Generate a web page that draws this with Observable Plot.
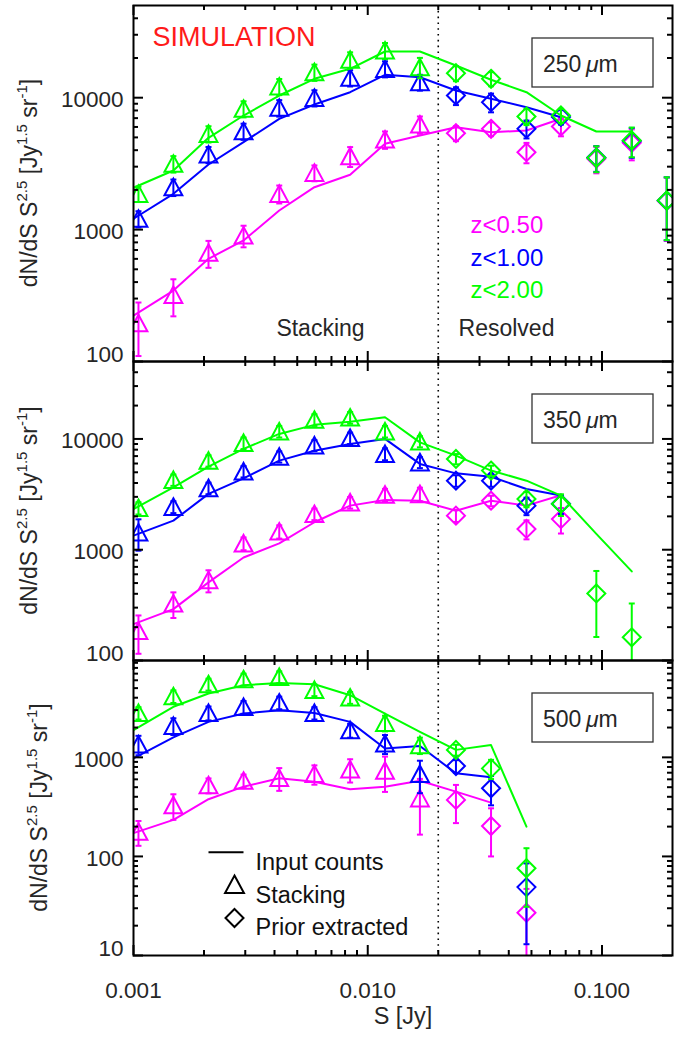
<!DOCTYPE html>
<html><head><meta charset="utf-8">
<script src="https://cdn.jsdelivr.net/npm/d3@7"></script>
<script src="https://cdn.jsdelivr.net/npm/@observablehq/plot@0.6"></script>
<style>
html,body{margin:0;padding:0;background:#fff;}
#chart{position:relative;width:674px;height:1041px;overflow:hidden;background:#fff;}
#chart svg{position:absolute;left:0;}
</style></head><body><div id="chart"></div>
<script>
// ---------- data ----------
const triX  = [0.00105, 0.00148, 0.00209, 0.00295, 0.00419, 0.00592, 0.00841, 0.01185, 0.0167];
const diaX  = [0.0238, 0.0336, 0.0476, 0.0668, 0.0946, 0.134, 0.189];
const lineX = [0.001, 0.00148, 0.00209, 0.00295, 0.00419, 0.00592, 0.00841, 0.01185, 0.0167,
               0.0238, 0.0336, 0.0476, 0.0668, 0.0946, 0.134];
const zLabels = ["z<0.50", "z<1.00", "z<2.00"];
const bandLabels = ["250", "350", "500"];
const regionLabels = ["Stacking", "Resolved"];
const legendLabels = ["Input counts", "Stacking", "Prior extracted"];

// 250 um : l = input counts line, s = stacking (triangles), p = prior extracted (diamonds), e = error
const l250_z05 = [223, 345, 601, 827, 1395, 2096, 2603, 4473, 5168, 5974, 5475, 5640, 6918];
const l250_z10 = [1208, 1868, 3116, 4599, 6918, 8880, 11010, 14920, 14300, 11340, 9810, 8472, 7116];
const l250_z20 = [2075, 2806, 4966, 7328, 10390, 13910, 16560, 22400, 22400, 17540, 13670, 11010, 7328, 5542, 5542];
const s250_z05 = [195, 320, 667, 902, 1868, 2695, 3601, 4821, 6264];
const s250_z05e = [85, 100, 154, 168, 290, 370, 620, 725, 940];
const s250_z10 = [1208, 2096, 3710, 5572, 8384, 9980, 14160, 16560, 13110];
const s250_z10e = [170, 300, 520, 780, 1200, 1400, 2000, 2300, 1800];
const s250_z20 = [1868, 3155, 5324, 8239, 12160, 15610, 19380, 22790, 17030];
const s250_z20e = [250, 450, 750, 1150, 1700, 2200, 2700, 3200, 3000];
const p250_z05 = [5381, 5809, 3863, 6047, 3450, 4550, 1650];
const p250_z05e = [700, 700, 680, 950, 780, 1200, 830];
const p250_z10 = [10390, 9245, 5809, 7150, 3520, 4700, 1660];
const p250_z10e = [1600, 1500, 900, 900, 780, 1200, 830];
const p250_z20 = [15340, 13910, 7204, 7328, 3502, 4738, 1662];
const p250_z20e = [2000, 1700, 1000, 900, 780, 1200, 830];

// 350 um
const l350_z05 = [213, 291, 507, 851, 1140, 1770, 2500, 2810, 2770, 2250, 2770, 2500, 3100];
const l350_z10 = [1340, 1830, 3190, 4400, 6370, 7830, 9010, 10000, 5950, 4890, 4560, 3530, 3080];
const l350_z20 = [2330, 3650, 5620, 8130, 11100, 13400, 14300, 15700, 9300, 7060, 5180, 4200, 3080, 1390, 637];
const s350_z05 = [185, 327, 532, 1140, 1460, 2100, 2670, 3140, 3180];
const s350_z05e = [70, 85, 120, 150, 200, 250, 320, 400, 450];
const s350_z10 = [1430, 2440, 3600, 5090, 6920, 8750, 10200, 7320, 6150];
const s350_z10e = [450, 300, 430, 600, 800, 1000, 1200, 900, 700];
const s350_z20 = [2380, 4270, 6370, 9200, 11700, 14900, 15600, 11700, 9500];
const s350_z20e = [300, 500, 750, 1100, 1400, 1800, 1900, 1400, 1100];
const p350_z05 = [2030, 2770, 1540, 1890];
const p350_z05e = [250, 300, 300, 490];
const p350_z10 = [4200, 4200, 2500, 2600];
const p350_z10e = [500, 500, 450, 500];
const p350_z20 = [6600, 5180, 2870, 2590, 403, 162];
const p350_z20e = [700, 550, 450, 575, 240, 165];

// 500 um
const l500_z05 = [172, 234, 378, 506, 615, 568, 476, 506, 581, 451, 349];
const l500_z10 = [977, 1590, 2280, 2770, 2990, 2810, 2280, 1230, 1300, 690, 630];
const l500_z20 = [1880, 3240, 4410, 5350, 5640, 5470, 4240, 2770, 1810, 1190, 1330, 200];
const s500_z05 = [178, 329, 523, 580, 619, 680, 757, 733, 386];
const s500_z05e = [50, 95, 90, 90, 160, 150, 200, 285, 220];
const s500_z10 = [1350, 2080, 2810, 3230, 3580, 2810, 1880, 1380, 680];
const s500_z10e = [300, 400, 450, 480, 520, 400, 300, 300, 245];
const s500_z20 = [2810, 4140, 5470, 6140, 6480, 4800, 4020, 2230, 1330];
const s500_z20e = [400, 600, 750, 850, 900, 650, 550, 400, 250];
const p500_z05 = [372, 203, 27];
const p500_z05e = [155, 103, 20];
const p500_z10 = [817, 488, 49];
const p500_z10e = [120, 160, 36];
const p500_z20 = [1190, 774, 76];
const p500_z20e = [150, 170, 45];

const xMajor = [0.001, 0.01, 0.1];
const xMinor = [0.002,0.003,0.004,0.005,0.006,0.007,0.008,0.009,0.02,0.03,0.04,0.05,0.06,0.07,0.08,0.09];
const stackLimit = 0.02;

// ---------- styling ----------
const COLORS = ["#ff00ff", "#0000ff", "#00ff00"];
const FONT = "'Liberation Sans', Arial, Helvetica, sans-serif";
const TXT = "#262626";
const W = 674, ML = 133, MR = 2;
const FW = W - ML - MR;

const radius = size => Math.sqrt(size / Math.PI);
const triSym = {draw(c, size){ const r = radius(size); c.moveTo(0,-r); c.lineTo(r*1.05, r*0.95); c.lineTo(-r*1.05, r*0.95); c.closePath(); }};
const diaSym = {draw(c, size){ const r = radius(size); c.moveTo(0,-r); c.lineTo(r,0); c.lineTo(0,r); c.lineTo(-r,0); c.closePath(); }};
const capSym = {draw(c, size){ const r = radius(size); c.moveTo(-r,0); c.lineTo(r,0); }};

function minorTicks(lo, hi){
  const out = [];
  for (let d = Math.floor(Math.log10(lo)); d <= Math.ceil(Math.log10(hi)); d++)
    for (let m = 2; m <= 9; m++){ const v = m*Math.pow(10,d); if (v > lo && v < hi) out.push(v); }
  return out;
}

function seriesMarks(lv, sv, se, pv, pe, color){
  const L = lv.map((v,i)=>({x: lineX[i], y: v}));
  const S = sv.map((v,i)=>({x: triX[i], y: v, lo: Math.max(v - se[i], 1), hi: v + se[i]}));
  const P = pv.map((v,i)=>({x: diaX[i], y: v, lo: Math.max(v - pe[i], 1), hi: v + pe[i]}));
  const o = {stroke: color, strokeWidth: 2, clip: true};
  const marks = [Plot.line(L, {x:"x", y:"y", ...o})];
  for (const D of [S, P]) {
    marks.push(Plot.ruleX(D, {x:"x", y1:"lo", y2:"hi", ...o}));
    marks.push(Plot.dot(D, {x:"x", y:"hi", symbol: capSym, r: 3, fill: "none", ...o}));
    marks.push(Plot.dot(D, {x:"x", y:"lo", symbol: capSym, r: 3, fill: "none", ...o}));
  }
  marks.push(Plot.dot(S, {x:"x", y:"y", symbol: triSym, r: 8.5, fill: "none", ...o}));
  marks.push(Plot.dot(P, {x:"x", y:"y", symbol: diaSym, r: 9, fill: "none", ...o}));
  return marks;
}

function axisMarks(yDomain, yMajor, FH, showXLabels){
  const yMinor = minorTicks(yDomain[0], yDomain[1]);
  const tk = {stroke: "black", strokeWidth: 2};
  const lab = {tickSize: 0, tickPadding: 10, fill: TXT, fontSize: 22.5, label: null, tickFormat: d => String(d)};
  const edge = yMajor.filter(v => Math.abs(v - yDomain[0]) / yDomain[0] < 0.02);
  const inner = yMajor.filter(v => !edge.includes(v));
  const m = [];
  // inward ticks: frame-spanning rules inset down to the tick length
  for (const [vals, len] of [[yMajor, 10], [yMinor, 5]]) {
    m.push(Plot.ruleY(vals, {y: d => d, insetRight: FW - len, ...tk}));
    m.push(Plot.ruleY(vals, {y: d => d, insetLeft: FW - len, ...tk}));
  }
  for (const [vals, len] of [[xMajor, 10], [xMinor, 5]]) {
    m.push(Plot.ruleX(vals, {x: d => d, insetTop: FH - len, ...tk}));
    m.push(Plot.ruleX(vals, {x: d => d, insetBottom: FH - len, ...tk}));
  }
  m.push(Plot.axisY(inner, {anchor: "left", dy: 2, ...lab}));
  m.push(Plot.axisY(edge, {anchor: "left", dy: -7, ...lab}));
  if (showXLabels) m.push(Plot.axisX(xMajor, {anchor: "bottom", tickSize: 0, tickPadding: 27, fill: TXT, fontSize: 22.5, label: null, tickFormat: d => d.toFixed(3)}));
  return m;
}

const panels = [
  {band: bandLabels[0], dom: [100, 50000], maj: [100, 1000, 10000], top: 0, height: 362, mt: 5, mb: 1,
   l: [l250_z05, l250_z10, l250_z20], s: [s250_z05, s250_z10, s250_z20], se: [s250_z05e, s250_z10e, s250_z20e],
   p: [p250_z05, p250_z10, p250_z20], pe: [p250_z05e, p250_z10e, p250_z20e], titleX: 37},
  {band: bandLabels[1], dom: [100, 50000], maj: [100, 1000, 10000], top: 360, height: 301, mt: 1, mb: 1,
   l: [l350_z05, l350_z10, l350_z20], s: [s350_z05, s350_z10, s350_z20], se: [s350_z05e, s350_z10e, s350_z20e],
   p: [p350_z05, p350_z10, p350_z20], pe: [p350_z05e, p350_z10e, p350_z20e], titleX: 37},
  {band: bandLabels[2], dom: [10, 9500], maj: [10, 100, 1000], top: 659, height: 382, mt: 1, mb: 86,
   l: [l500_z05, l500_z10, l500_z20], s: [s500_z05, s500_z10, s500_z20], se: [s500_z05e, s500_z10e, s500_z20e],
   p: [p500_z05, p500_z10, p500_z20], pe: [p500_z05e, p500_z10e, p500_z20e], titleX: 47}
];

const chart = document.getElementById("chart");

panels.forEach((pn, k) => {
  const FH = pn.height - pn.mt - pn.mb;
  const marks = [];
  marks.push(Plot.ruleX([stackLimit], {stroke: "black", strokeWidth: 1.6, strokeDasharray: "1.6,4.2"}));
  for (let j = 0; j < 3; j++) marks.push(...seriesMarks(pn.l[j], pn.s[j], pn.se[j], pn.p[j], pn.pe[j], COLORS[j]));
  marks.push(Plot.frame({stroke: "black", strokeWidth: 2}));
  marks.push(...axisMarks(pn.dom, pn.maj, FH, k === 2));

  if (k === 0) {
    marks.push(Plot.text(["SIMULATION"], {text: d => d, frameAnchor: "top-left", textAnchor: "start", dx: 19, dy: 21.4, fill: "#ff1a1a", fontSize: 27}));
    marks.push(Plot.text([regionLabels[0]], {text: d => d, frameAnchor: "bottom-left", textAnchor: "middle", dx: 187, dy: -25.4, fill: TXT, fontSize: 23}));
    marks.push(Plot.text([regionLabels[1]], {text: d => d, frameAnchor: "bottom-left", textAnchor: "middle", dx: 373, dy: -25.4, fill: TXT, fontSize: 23}));
    const zdy = [210.3, 243.3, 275.3];
    zLabels.forEach((z, j) => marks.push(Plot.text([z], {text: d => d, frameAnchor: "top-left", textAnchor: "start", dx: 337, dy: zdy[j], fill: COLORS[j], fontSize: 24})));
  }
  if (k === 2) {
    marks.push(Plot.dot([0], {frameAnchor: "top-left", dx: 92.5, dy: 191.7, symbol: capSym, r: 17.5, stroke: "black", fill: "none", strokeWidth: 2}));
    marks.push(Plot.dot([0], {frameAnchor: "top-left", dx: 101, dy: 224, symbol: triSym, r: 9, stroke: "black", fill: "none", strokeWidth: 2}));
    marks.push(Plot.dot([0], {frameAnchor: "top-left", dx: 101, dy: 257.5, symbol: diaSym, r: 9, stroke: "black", fill: "none", strokeWidth: 2}));
    const ldy = [192.5, 225.5, 258];
    legendLabels.forEach((t, j) => marks.push(Plot.text([t], {text: d => d, frameAnchor: "top-left", textAnchor: "start", dx: 122, dy: ldy[j], fill: "#111", fontSize: 23.5})));
    marks.push(Plot.text(["S [Jy]"], {text: d => d, frameAnchor: "bottom", dy: 68.6, fill: TXT, fontSize: 23.5}));
  }

  const svg = Plot.plot({
    width: W, height: pn.height,
    marginLeft: ML, marginRight: MR, marginTop: pn.mt, marginBottom: pn.mb,
    x: {type: "log", domain: [0.001, 0.2], axis: null},
    y: {type: "log", domain: pn.dom, axis: null},
    style: {fontFamily: FONT, background: "transparent", overflow: "visible"},
    marks
  });
  svg.style.top = pn.top + "px";
  chart.appendChild(svg);

  // wavelength box and y-axis title (decorations)
  const s = d3.select(svg);
  const fTop = pn.mt, fBot = pn.height - pn.mb;
  s.append("rect").attr("x", 532).attr("y", fTop + 33).attr("width", 121).attr("height", 49)
    .attr("fill", "none").attr("stroke", "#333").attr("stroke-width", 1.3);
  const bt = s.append("text").attr("x", 543).attr("y", fTop + 67).attr("fill", TXT)
    .attr("text-anchor", "start").style("font-family", FONT).style("font-size", "23px");
  bt.append("tspan").text(pn.band + "\u2009");
  bt.append("tspan").style("font-style", "italic").text("\u03bc");
  bt.append("tspan").text("m");

  const t = s.append("text").attr("transform", `translate(${pn.titleX},${(fTop + fBot) / 2}) rotate(-90)`)
    .attr("text-anchor", "middle").attr("fill", TXT).style("font-family", FONT).style("font-size", "23px");
  const parts = [["dN/dS S", 0], ["2.5", 1], [" [Jy", 0], ["1.5", 1], [" sr", 0], ["-1", 1], ["]", 0]];
  let prevSup = 0;
  for (const [txt, sup] of parts) {
    const ts = t.append("tspan").text(txt);
    if (sup) ts.style("font-size", "15px");
    const dy = sup === prevSup ? 0 : (sup ? -10 : 10);
    if (dy) ts.attr("dy", dy);
    prevSup = sup;
  }
});
</script></body></html>
